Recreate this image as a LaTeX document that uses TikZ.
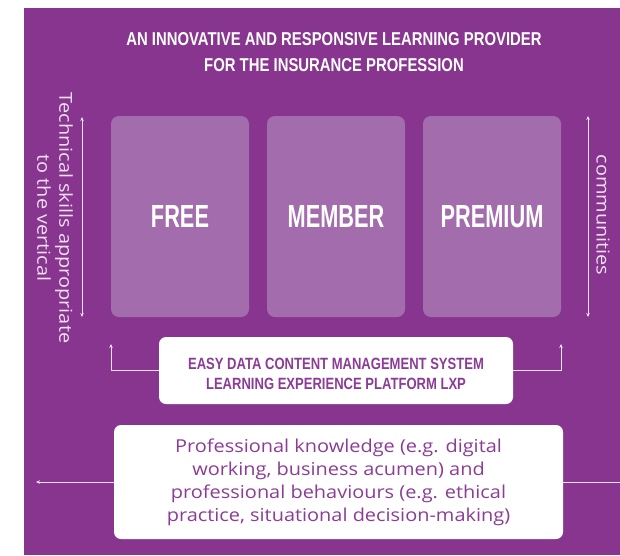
\documentclass[tikz,border=0pt]{standalone}
\usepackage{fontspec}
\usetikzlibrary{arrows.meta}
\newfontfamily\hdfont[FakeStretch=0.8]{Liberation Sans}
\newfontfamily\tierfont[FakeStretch=0.68]{Liberation Sans}
\newfontfamily\bodyfont[FakeStretch=1.12]{Open Sans}
\definecolor{bgpurple}{RGB}{136,53,143}
\definecolor{tierfill}{RGB}{163,108,172}
\definecolor{textpurple}{RGB}{140,60,150}
\definecolor{linecol}{RGB}{238,225,240}
\begin{document}
\begin{tikzpicture}[x=1pt,y=-1pt,
  tier/.style={fill=tierfill, rounded corners=8pt, minimum width=138pt, minimum height=201pt, inner sep=0pt, text=white, font=\tierfont\bfseries\fontsize{32}{34}\selectfont},
  whitebox/.style={fill=white, rounded corners=7pt, inner sep=0pt, text=textpurple, align=center},
  headtext/.style={align=center, inner sep=0pt, font=\hdfont\bfseries\fontsize{16.3}{20.5}\selectfont},
  conn/.style={draw=linecol, line width=1pt},
  tip/.style={-{Stealth[length=4pt,width=3.5pt]}},
  dtip/.style={{Stealth[length=4pt,width=3.5pt]}-{Stealth[length=4pt,width=3.5pt]}},
  sidetext/.style={rotate=-90, text=linecol, align=center, inner sep=0pt, font=\bodyfont\fontsize{17.8}{22}\selectfont}
]
\useasboundingbox (0,0) rectangle (620,555);
\fill[bgpurple] (24,8) rectangle (620,555);
\node[text=white, align=center, inner sep=0pt, font=\hdfont\bfseries\fontsize{18.6}{26}\selectfont] (title) at (334,52) {AN INNOVATIVE AND RESPONSIVE LEARNING PROVIDER\\FOR THE INSURANCE PROFESSION};
\node[tier] (free) at (180,216.5) {FREE};
\node[tier] (member) at (336,216.5) {MEMBER};
\node[tier] (premium) at (492,216.5) {PREMIUM};
\node[whitebox, minimum width=354pt, minimum height=67pt] (easy) at (336,370.5) {};
\node[headtext, text=textpurple] (easytext) at (336,373.7) {EASY DATA CONTENT MANAGEMENT SYSTEM\\LEARNING EXPERIENCE PLATFORM LXP};
\node[whitebox, minimum width=449pt, minimum height=114pt, font=\bodyfont\fontsize{17.8}{23}\selectfont] (pk) at (338.5,482) {Professional knowledge (e.g. digital\\working, business acumen) and\\professional behaviours (e.g. ethical\\practice, situational decision-making)};
\node[sidetext] (skills) at (55,218) {Technical skills appropriate\\to the vertical};
\node[sidetext] (comm) at (603,215) {communities};
\coordinate (lup) at (111,344);
\coordinate (rup) at (561,344);
\coordinate (lend) at (36,482);
\coordinate (rend) at (620,482);
\coordinate (ltop) at (82,117);
\coordinate (lbot) at (82,317);
\coordinate (rtop) at (588,116);
\coordinate (rbot) at (588,317);
\draw[conn,tip] (easy.west) -| (lup);
\draw[conn,tip] (easy.east) -| (rup);
\draw[conn,tip] (pk.west) -- (lend);
\draw[conn] (pk.east) -- (rend);
\draw[conn,dtip] (ltop) -- (lbot);
\draw[conn,dtip] (rtop) -- (rbot);
\end{tikzpicture}
\end{document}
